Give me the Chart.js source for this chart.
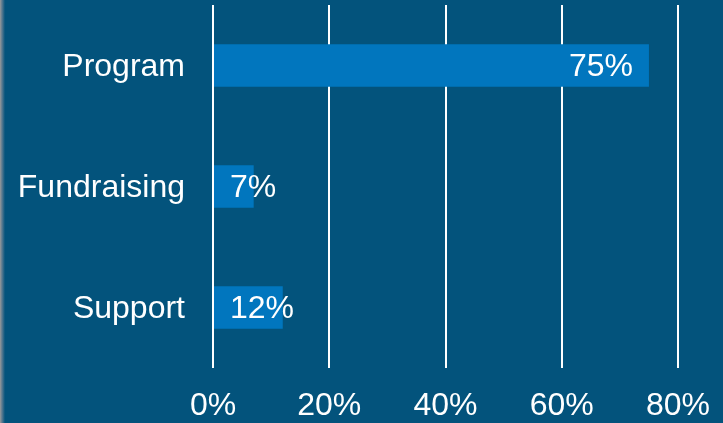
<!DOCTYPE html>
<html>
<head>
<meta charset="utf-8">
<script src="https://cdn.jsdelivr.net/npm/chart.js@4"></script>
<style>
    html, body { margin: 0; padding: 0; }
    body {
        width: 723px;
        height: 423px;
        overflow: hidden;
        background: linear-gradient(to right, #9a9a9a 0px, #5a7a90 2px, #03537c 5px, #03537c 100%);
    }
    #wrap { position: relative; width: 723px; height: 423px; }
    canvas { display: block; }
</style>
</head>
<body>
<div id="wrap"><canvas id="chart" width="723" height="423"></canvas></div>
<script>
    // values
    let categories = ['Program', 'Fundraising', 'Support'];
    let shares = [75, 7, 12];
    let tickValues = [0, 20, 40, 60, 80];

    let fontFamily = '"Liberation Sans", Arial, sans-serif';

    // draws the percentage inside each bar
    let barLabels = {
        id: 'barLabels',
        afterDatasetsDraw(chart) {
            let ctx = chart.ctx;
            let meta = chart.getDatasetMeta(0);
            ctx.save();
            ctx.font = '32px ' + fontFamily;
            ctx.fillStyle = '#ffffff';
            ctx.textBaseline = 'middle';
            meta.data.forEach(function (bar, i) {
                let text = shares[i] + '%';
                let w = ctx.measureText(text).width;
                if (bar.x - bar.base > w + 32) {
                    ctx.textAlign = 'right';
                    ctx.fillText(text, bar.x - 16, bar.y + 2);
                } else {
                    ctx.textAlign = 'left';
                    ctx.fillText(text, bar.base + 16, bar.y + 2);
                }
            });
            ctx.restore();
        }
    };

    let ctx = document.getElementById('chart').getContext('2d');
    window.myChart = new Chart(ctx, {
        type: 'bar',
        data: {
            labels: categories,
            datasets: [{
                data: shares,
                backgroundColor: '#0176be',
                borderWidth: 0,
                barPercentage: 0.35,
                categoryPercentage: 1
            }]
        },
        plugins: [barLabels],
        options: {
            indexAxis: 'y',
            responsive: false,
            animation: false,
            maintainAspectRatio: false,
            layout: {
                padding: { top: 5, right: 45, left: 0, bottom: 0 }
            },
            scales: {
                x: {
                    min: 0,
                    max: 80,
                    afterBuildTicks: function (scale) {
                        scale.ticks = tickValues.map(v => ({ value: v }));
                    },
                    afterFit: function (scale) {
                        scale.height = 55;
                        scale.paddingLeft = 0;
                        scale.paddingRight = 0;
                    },
                    grid: {
                        color: '#ffffff',
                        lineWidth: 2,
                        drawTicks: false
                    },
                    border: { display: false },
                    ticks: {
                        color: '#ffffff',
                        padding: 19,
                        maxRotation: 0,
                        font: { family: fontFamily, size: 32 },
                        callback: function (value) {
                            return value + '%';
                        }
                    }
                },
                y: {
                    afterFit: function (scale) {
                        scale.width = 213;
                        scale.paddingTop = 0;
                        scale.paddingBottom = 0;
                    },
                    grid: { display: false, drawTicks: false },
                    border: { display: false },
                    ticks: {
                        color: '#ffffff',
                        padding: 28,
                        labelOffset: 2,
                        font: { family: fontFamily, size: 32 }
                    }
                }
            },
            plugins: {
                legend: { display: false },
                tooltip: { enabled: false }
            }
        }
    });
</script>
</body>
</html>
